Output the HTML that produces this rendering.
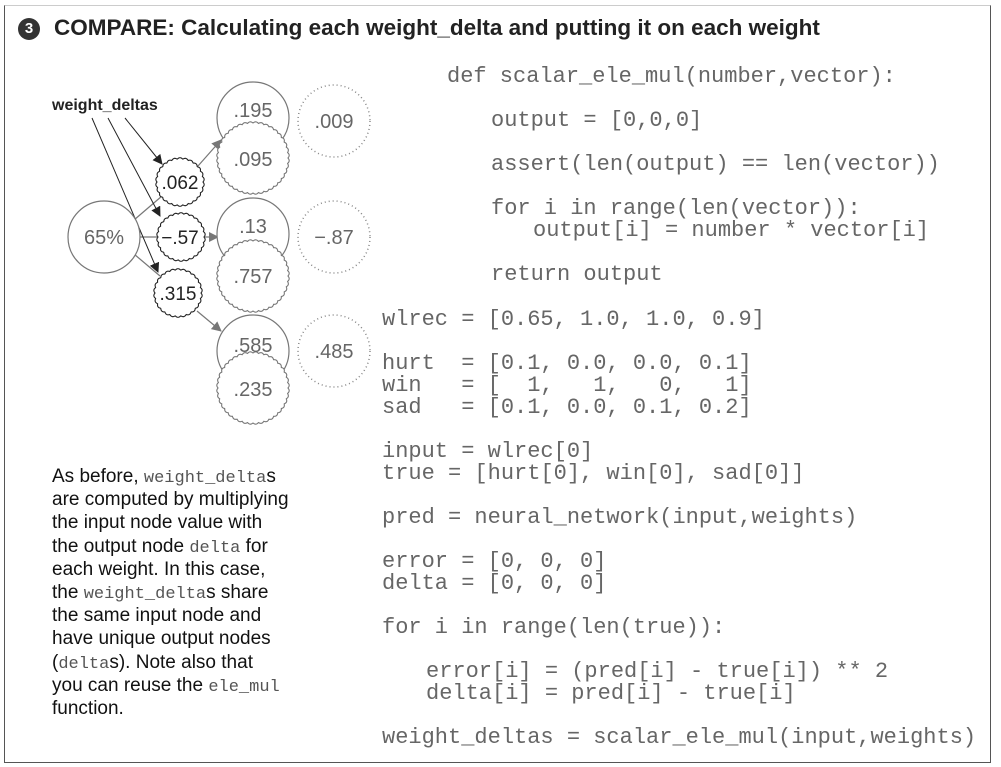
<!DOCTYPE html>
<html><head><meta charset="utf-8"><style>
body{margin:0;width:1001px;height:767px;background:#fff;position:relative;overflow:hidden;font-family:"Liberation Sans",Arial,sans-serif}
.frame{position:absolute;left:4px;top:5px;width:985px;height:756px;border:1.5px solid #555;border-top:1.5px solid #ccc}
.title{position:absolute;left:18px;top:15px;font-weight:bold;font-size:22.5px;color:#222;white-space:nowrap}
.title .num{display:inline-block;width:22px;height:22px;border-radius:50%;background:#333;color:#fff;font-size:15px;text-align:center;line-height:22px;margin-right:14px;vertical-align:2px}
.c{position:absolute;font-family:"Liberation Mono",monospace;font-size:22px;line-height:22px;color:#666;white-space:pre}
.txt{position:absolute;left:52px;top:465px;font-size:19px;line-height:23.2px;color:#111;white-space:nowrap}
.txt code{font-family:"Liberation Mono",monospace;font-size:17px;line-height:1;color:#555}
</style></head><body>
<div class="frame"></div>
<div class="title"><span class="num">3</span>COMPARE: Calculating each weight_delta and putting it on each weight</div>
<svg width="400" height="440" style="position:absolute;left:0;top:0" id="s">
<defs>
<marker id="ag" markerWidth="10" markerHeight="10" refX="9" refY="5" orient="auto" markerUnits="userSpaceOnUse"><path d="M0,0 L10,5 L0,10 z" fill="#777"/></marker>
<marker id="ab" markerWidth="10" markerHeight="10" refX="9" refY="5" orient="auto" markerUnits="userSpaceOnUse"><path d="M0,0 L10,5 L0,10 z" fill="#222"/></marker>
</defs>
<g stroke="#777" stroke-width="1.2" fill="none">
<line x1="134" y1="220" x2="162" y2="196"/>
<line x1="140" y1="237" x2="157" y2="237"/>
<line x1="134" y1="254" x2="160" y2="276"/>
<line x1="198" y1="166" x2="221" y2="140" marker-end="url(#ag)"/>
<line x1="205" y1="237" x2="218" y2="237" marker-end="url(#ag)"/>
<line x1="197" y1="311" x2="221" y2="331" marker-end="url(#ag)"/>
</g>
<g stroke="#222" stroke-width="1" fill="none">
<line x1="125" y1="118" x2="162" y2="164" marker-end="url(#ab)"/>
<line x1="108" y1="118" x2="160" y2="216" marker-end="url(#ab)"/>
<line x1="92" y1="118" x2="158" y2="272" marker-end="url(#ab)"/>
</g>
<circle cx="104" cy="237" r="36" fill="#fff" stroke="#777" stroke-width="1.2"/>
<g fill="#fff" stroke="#777" stroke-width="1.2">
<circle cx="253" cy="118" r="36"/>
<circle cx="253" cy="234" r="36"/>
<circle cx="253" cy="351" r="36"/>
</g>
<g id="wav"></g>
<g fill="none" stroke="#888" stroke-width="1.5" stroke-dasharray="1 3">
<circle cx="334" cy="121" r="36"/>
<circle cx="334" cy="237" r="36"/>
<circle cx="334" cy="351" r="36"/>
</g>
<g font-family="Liberation Sans, Arial, sans-serif" font-size="20" fill="#666" text-anchor="middle">
<text x="104" y="244">65%</text>
<text x="253" y="117">.195</text>
<text x="253" y="166">.095</text>
<text x="253" y="233">.13</text>
<text x="253" y="283">.757</text>
<text x="253" y="352">.585</text>
<text x="253" y="396">.235</text>
<text x="334" y="128">.009</text>
<text x="334" y="244">−.87</text>
<text x="334" y="358">.485</text>
</g>
<g font-family="Liberation Sans, Arial, sans-serif" font-size="19" fill="#222" text-anchor="middle">
<text x="180" y="189">.062</text>
<text x="180" y="244">−.57</text>
<text x="178" y="300">.315</text>
</g>
<text x="52" y="110" font-family="Liberation Sans, Arial, sans-serif" font-weight="bold" font-size="16" fill="#222">weight_deltas</text>
</svg>
<script>
(function(){
var g=document.getElementById('wav');
function wavy(cx,cy,r,n,a,stroke){
var d='';for(var i=0;i<=360;i++){var t=i/360*2*Math.PI;var rr=r+a*Math.abs(Math.sin(t*n/2));var x=cx+rr*Math.cos(t),y=cy+rr*Math.sin(t);d+=(i?'L':'M')+x.toFixed(2)+','+y.toFixed(2);}
var p=document.createElementNS('http://www.w3.org/2000/svg','path');p.setAttribute('d',d+'Z');p.setAttribute('fill','#fff');p.setAttribute('stroke',stroke);p.setAttribute('stroke-width','1.1');g.appendChild(p);}
wavy(253,158,35,40,1.3,'#777');wavy(253,276,35,40,1.3,'#777');wavy(253,388,35,40,1.3,'#777');
wavy(180,182,23,26,1.3,'#222');wavy(181,237,23,26,1.3,'#222');wavy(178,293,23,26,1.3,'#222');
})();
</script>
<div class="c" style="left:447px;top:66px">def scalar_ele_mul(number,vector):</div>
<div class="c" style="left:491px;top:110px">output = [0,0,0]</div>
<div class="c" style="left:491px;top:154px">assert(len(output) == len(vector))</div>
<div class="c" style="left:491px;top:198px">for i in range(len(vector)):</div>
<div class="c" style="left:533px;top:220px">output[i] = number * vector[i]</div>
<div class="c" style="left:491px;top:264px">return output</div>
<div class="c" style="left:382px;top:309px">wlrec = [0.65, 1.0, 1.0, 0.9]</div>
<div class="c" style="left:382px;top:353px">hurt  = [0.1, 0.0, 0.0, 0.1]
win   = [  1,   1,   0,   1]
sad   = [0.1, 0.0, 0.1, 0.2]</div>
<div class="c" style="left:382px;top:441px">input = wlrec[0]
true = [hurt[0], win[0], sad[0]]</div>
<div class="c" style="left:382px;top:507px">pred = neural_network(input,weights)</div>
<div class="c" style="left:382px;top:551px">error = [0, 0, 0]
delta = [0, 0, 0]</div>
<div class="c" style="left:382px;top:617px">for i in range(len(true)):</div>
<div class="c" style="left:426px;top:661px">error[i] = (pred[i] - true[i]) ** 2
delta[i] = pred[i] - true[i]</div>
<div class="c" style="left:382px;top:727px">weight_deltas = scalar_ele_mul(input,weights)</div>
<div class="txt">As before, <code>weight_delta</code>s<br>are computed by multiplying<br>the input node value with<br>the output node <code>delta</code> for<br>each weight. In this case,<br>the <code>weight_delta</code>s share<br>the same input node and<br>have unique output nodes<br>(<code>delta</code>s). Note also that<br>you can reuse the <code>ele_mul</code><br>function.</div>
</body></html>
